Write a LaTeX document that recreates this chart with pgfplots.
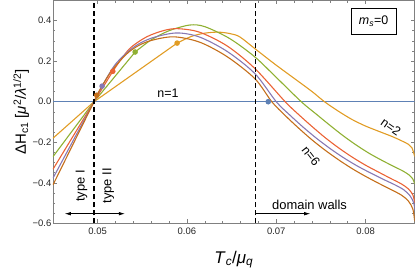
\documentclass[border=0pt]{standalone}
\usepackage{fontspec}
\setmainfont{Liberation Sans}
\usepackage{pgfplots}
\pgfplotsset{compat=1.18}
\usetikzlibrary{arrows.meta}
\definecolor{cBlue}{RGB}{94,129,181}
\definecolor{cOrange}{RGB}{225,156,36}
\definecolor{cGreen}{RGB}{143,176,50}
\definecolor{cRed}{RGB}{235,98,53}
\definecolor{cPurple}{RGB}{135,120,179}
\definecolor{cBrown}{RGB}{197,110,26}
\begin{document}
\begin{tikzpicture}
\begin{axis}[
  at={(0,0)}, anchor=south west,
  scale only axis, width=362bp, height=223.3bp,
  xmin=0.045, xmax=0.0855, ymin=-0.6, ymax=0.5,
  scaled x ticks=false, scaled y ticks=false,
  xtick={0.05,0.06,0.07,0.08}, xticklabels={0.05,0.06,0.07,0.08},
  ytick={-0.6,-0.4,-0.2,0,0.2,0.4}, yticklabels={−0.6,−0.4,−0.2,0.0,0.2,0.4},
  minor x tick num=4, minor y tick num=3,
  tick align=inside, tick pos=both, xticklabel pos=lower, yticklabel pos=left,
  major tick length=4bp, minor tick length=2.4bp,
  every tick/.style={black!50, line width=0.5pt},
  axis line style={black!50, line width=0.6pt},
  tick label style={font=\fontsize{9.5}{11}\selectfont, text=black!85},
  xticklabel style={yshift=-1bp},
  yticklabel style={inner sep=1.5bp},
  xlabel={\textit{T}\textsubscript{\textit{c}}/\textit{μ}\textsubscript{\textit{q}}},
  xlabel style={font=\fontsize{17}{19}\selectfont, at={(axis description cs:0.5,-0.178)}, anchor=base},
  ylabel={ΔH\textsubscript{c1} [\textit{μ}\textsuperscript{2}/\textit{λ}\textsuperscript{1/2}]},
  ylabel style={font=\fontsize{15}{17}\selectfont, at={(axis description cs:-0.088,0.5)}, anchor=center, rotate=0},
  every axis plot/.append style={line width=1.1pt},
]
% n=1
\addplot[color=cBlue, line width=1.3pt] coordinates {(0.045,0) (0.0855,0)};
% n=2
\addplot[color=cOrange] coordinates {(0.045,-0.18) (0.0496,0) (0.0589,0.289)};
\addplot[color=cOrange, smooth] coordinates {(0.0589,0.289) (0.0605,0.322) (0.0620,0.338) (0.0635,0.343) (0.0648,0.336) (0.0659,0.320) (0.0676,0.262) (0.0700,0.18) (0.0738,0.057) (0.0754,0) (0.0770,-0.048) (0.0785,-0.088) (0.0800,-0.12) (0.0816,-0.148) (0.0830,-0.172) (0.0840,-0.192) (0.0848,-0.21) (0.0852,-0.228) (0.0855,-0.27)};
% n=3
\addplot[color=cGreen] coordinates {(0.045,-0.271) (0.0496,0) (0.0542,0.245)};
\addplot[color=cGreen, smooth] coordinates {(0.0542,0.245) (0.0560,0.305) (0.0580,0.350) (0.0603,0.378) (0.0620,0.370) (0.0648,0.311) (0.0676,0.221) (0.0700,0.12) (0.0728,0) (0.0745,-0.062) (0.0760,-0.116) (0.0775,-0.168) (0.0790,-0.215) (0.0805,-0.257) (0.0820,-0.293) (0.0832,-0.320) (0.0842,-0.342) (0.0849,-0.362) (0.0853,-0.382) (0.0855,-0.405)};
% n=4
\addplot[color=cRed] coordinates {(0.045,-0.333) (0.0496,0) (0.0517,0.150)};
\addplot[color=cRed, smooth] coordinates {(0.0517,0.150) (0.0535,0.258) (0.0555,0.320) (0.0575,0.352) (0.0590,0.360) (0.0614,0.343) (0.0645,0.275) (0.0676,0.164) (0.0710,0) (0.0725,-0.063) (0.0740,-0.122) (0.0755,-0.178) (0.0770,-0.228) (0.0785,-0.273) (0.0800,-0.313) (0.0815,-0.348) (0.0828,-0.378) (0.0840,-0.405) (0.0848,-0.43) (0.0853,-0.46) (0.0855,-0.50)};
% n=5
\addplot[color=cPurple] coordinates {(0.045,-0.377) (0.0496,0) (0.0505,0.077)};
\addplot[color=cPurple, smooth] coordinates {(0.0505,0.077) (0.0520,0.185) (0.0540,0.268) (0.0560,0.313) (0.0588,0.339) (0.0614,0.319) (0.0645,0.248) (0.0676,0.139) (0.0700,0) (0.0715,-0.065) (0.0730,-0.125) (0.0745,-0.18) (0.0760,-0.23) (0.0775,-0.275) (0.0790,-0.315) (0.0805,-0.35) (0.0820,-0.383) (0.0833,-0.41) (0.0843,-0.435) (0.0850,-0.465) (0.0854,-0.50) (0.0855,-0.535)};
% n=6
\addplot[color=cBrown] coordinates {(0.045,-0.41) (0.0496,0) (0.0499,0.032)};
\addplot[color=cBrown, smooth] coordinates {(0.0499,0.032) (0.0515,0.148) (0.0535,0.245) (0.0555,0.295) (0.0584,0.320) (0.0614,0.294) (0.0645,0.222) (0.0676,0.114) (0.0695,0) (0.0710,-0.068) (0.0725,-0.13) (0.0740,-0.188) (0.0755,-0.24) (0.0770,-0.287) (0.0785,-0.33) (0.0800,-0.368) (0.0815,-0.403) (0.0828,-0.432) (0.0840,-0.46) (0.0848,-0.49) (0.0853,-0.53) (0.0855,-0.59)};
% markers
\addplot[only marks, mark=*, mark size=2.2bp, color=cBlue] coordinates {(0.0691,0)};
\addplot[only marks, mark=*, mark size=2.2bp, color=cOrange] coordinates {(0.0589,0.289)};
\addplot[only marks, mark=*, mark size=2.2bp, color=cGreen] coordinates {(0.0542,0.245)};
\addplot[only marks, mark=*, mark size=2.2bp, color=cRed] coordinates {(0.0517,0.150)};
\addplot[only marks, mark=*, mark size=2.2bp, color=cPurple] coordinates {(0.0505,0.077)};
\addplot[only marks, mark=*, mark size=2.2bp, color=cBrown] coordinates {(0.0499,0.032)};
% dashed lines
\addplot[black, line width=1.4pt, dash pattern=on 5bp off 3bp] coordinates {(0.0496,-0.6) (0.0496,0.5)};
\addplot[black, line width=1.4pt, dash pattern=on 5bp off 3bp] coordinates {(0.0677,-0.6) (0.0677,0.5)};
% arrows
\draw[black, line width=0.6pt, -{Latex[length=6bp,width=3.5bp]}] (axis cs:0.0496,-0.552) -- (axis cs:0.04633,-0.552);
\draw[black, line width=0.6pt, -{Latex[length=6bp,width=3.5bp]}] (axis cs:0.0496,-0.552) -- (axis cs:0.05305,-0.552);
\draw[black, line width=0.6pt, -{Latex[length=6bp,width=3.5bp]}] (axis cs:0.0677,-0.552) -- (axis cs:0.0738,-0.552);
% labels
\node[font=\fontsize{13}{15}\selectfont, rotate=90] at (axis cs:0.0482,-0.415) {type I};
\node[font=\fontsize{13}{15}\selectfont, rotate=90] at (axis cs:0.0512,-0.415) {type II};
\node[font=\fontsize{13}{15}\selectfont, anchor=base west, inner sep=0pt] at (axis cs:0.06952,-0.533) {domain walls};
\node[font=\fontsize{12.5}{15}\selectfont] at (axis cs:0.05787,0.042) {n=1};
\node[font=\fontsize{12.5}{15}\selectfont, rotate=-35, inner sep=0pt] at (axis cs:0.08284,-0.125) {n=2};
\node[font=\fontsize{12.5}{15}\selectfont, rotate=-52, inner sep=0pt] at (axis cs:0.07389,-0.267) {n=6};
\node[draw=black, line width=0.8pt, inner sep=0pt, minimum width=45bp, minimum height=26bp, font=\fontsize{12.5}{15}\selectfont, fill=white] at (axis cs:0.0809,0.396) {\textit{m}\textsubscript{\textit{s}}=0};
\end{axis}
\pgfresetboundingbox
\path[use as bounding box] (-53bp,-45.7bp) rectangle (362.3bp,223.6bp);
\end{tikzpicture}
\end{document}
